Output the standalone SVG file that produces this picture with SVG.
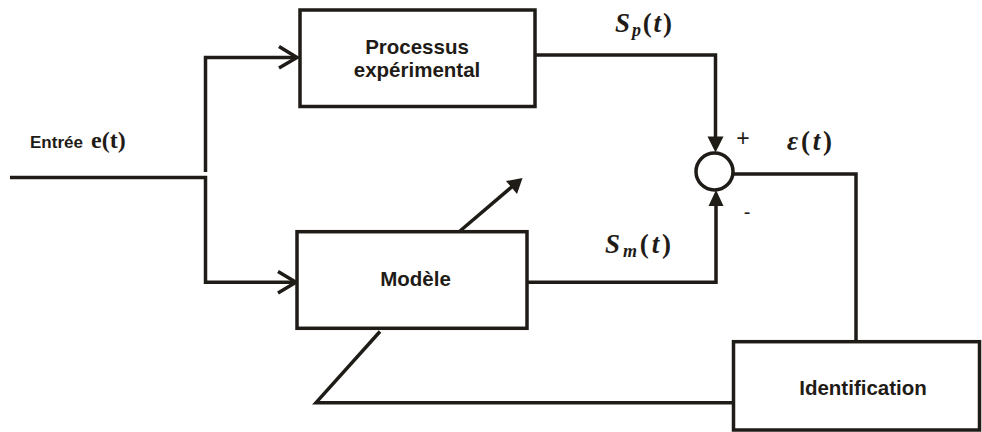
<svg xmlns="http://www.w3.org/2000/svg" width="982" height="432" viewBox="0 0 982 432">
<style>
.ln{fill:none;stroke:#1f1c17;stroke-width:3.5;stroke-linejoin:miter}
.box{fill:#ffffff;stroke:#1f1c17;stroke-width:3.5}
.fill{fill:#1f1c17;stroke:none}
.lbl{font-family:"Liberation Sans",Arial,sans-serif;font-weight:bold;font-size:20.5px;fill:#1f1c17;text-anchor:middle}
.math{font-family:"Liberation Serif","DejaVu Serif",serif;font-weight:bold;font-style:italic;fill:#1f1c17;font-size:27px}
.up{font-style:normal}
.sm{font-family:"Liberation Sans",Arial,sans-serif;fill:#1f1c17;text-anchor:middle}
</style>
<rect width="982" height="432" fill="#ffffff"/>
<g id="connectors">
<path class="ln" d="M10,177.5 H205.5 V282.3 H295"/>
<path class="ln" d="M205.5,172 V57.5 H296"/>
<path class="ln" d="M279,46.5 L297,57.5 L279,68"/>
<path class="ln" d="M278,271.5 L296,282.3 L278,293"/>
<path class="ln" d="M535,55 H715.5 V140"/>
<path class="fill" d="M715.5,152.5 L707.5,136.5 L723.5,136.5 Z"/>
<path class="ln" d="M527,282.3 H716 V200"/>
<path class="fill" d="M716,190 L708.5,206 L723.5,206 Z"/>
<path class="ln" d="M733,174 H856 V341"/>
<path class="ln" d="M734,402.7 H316 L380,331.5"/>
<path class="ln" d="M460,231 L514,185"/>
<path class="fill" d="M522.5,178 L517,194 L506,181 Z"/>
</g>
<g id="processus">
<rect class="box" x="300" y="10" width="235" height="96.5"/>
<text class="lbl" x="417" y="54">Processus</text>
<text class="lbl" x="417" y="77">expérimental</text>
</g>
<g id="modele">
<rect class="box" x="297" y="231.7" width="230" height="96.6"/>
<text class="lbl" x="415.5" y="285.5">Modèle</text>
</g>
<g id="identification">
<rect class="box" x="733.5" y="341.7" width="246" height="88.3"/>
<text class="lbl" x="863" y="395">Identification</text>
</g>
<g id="sommateur">
<circle cx="714.5" cy="171.5" r="18.5" fill="#ffffff" stroke="#1f1c17" stroke-width="3.5"/>
</g>
<g id="labels">
<text x="30" y="147.7" font-family="Liberation Sans,Arial,sans-serif" font-weight="bold" font-size="17" fill="#1f1c17">Entrée</text>
<text x="91" y="148" font-family="Liberation Serif,serif" font-weight="bold" font-size="24" fill="#1f1c17">e(t)</text>
<text class="math" x="615" y="31.7" textLength="57" lengthAdjust="spacing">S<tspan font-size="18" dy="4">p</tspan><tspan class="up" dy="-4">(</tspan>t<tspan class="up">)</tspan></text>
<text class="math" x="605" y="253" textLength="66" lengthAdjust="spacing">S<tspan font-size="18" dy="4">m</tspan><tspan class="up" dy="-4">(</tspan>t<tspan class="up">)</tspan></text>
<text class="math" x="787" y="150" textLength="45" lengthAdjust="spacing">ε<tspan class="up">(</tspan>t<tspan class="up">)</tspan></text>
<text class="sm" x="743" y="146" font-size="23">+</text>
<text class="sm" x="747" y="219" font-size="20">-</text>
</g>
</svg>
